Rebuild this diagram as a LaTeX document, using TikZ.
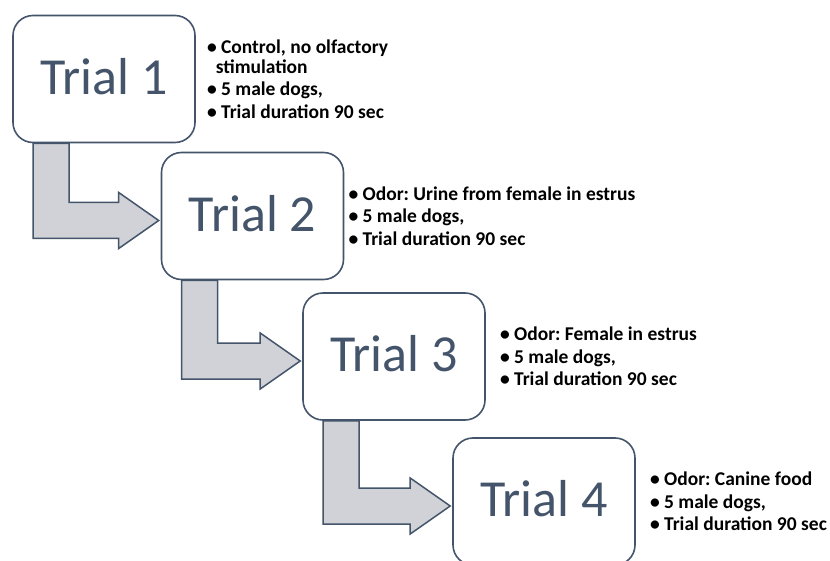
\documentclass[tikz,border=0pt]{standalone}
\usepackage{fontspec}
\setmainfont{Carlito}
\usepackage{tikz}
\usetikzlibrary {positioning}
\usetikzlibrary {calc}
\frenchspacing

\definecolor{slate}{RGB}{68,84,106}
\definecolor{arrowgray}{RGB}{208,210,215}

\tikzset{
  trialbox/.style={rectangle, rounded corners=20pt, draw=slate, line width=1.6pt,
    fill=white, text=slate, minimum width=182pt, minimum height=127pt,
    font=\fontsize{52}{60}\selectfont, text depth=0pt},
  notes/.style={align=left, inner sep=0pt, text=black,
    font=\bfseries\fontsize{19.5}{19.5}\selectfont},
  blockarrow/.style={draw=slate, line width=1.5pt, fill=arrowgray, line join=miter}
}

\begin{document}
\begin{tikzpicture}[x=1pt, y=-1pt]
\useasboundingbox (0,0) rectangle (830,561);

%trials
\node [trialbox] (t1) at (104,79) {\raisebox{6pt}{Trial 1}};
\node [trialbox] (t2) at (252.5,216) {\raisebox{6pt}{Trial 2}};
\node [trialbox] (t3) at (394,356.5) {\raisebox{6pt}{Trial 3}};
\node [trialbox] (t4) at (544,501.5) {\raisebox{6pt}{Trial 4}};

%notes
\node [notes, right=11pt of t1] (n1) {\textbullet\ Control, no olfactory\\
  \hspace*{0.45em}stimulation\\[3pt]
  \textbullet\ 5 male dogs,\\[3pt]
  \textbullet\ Trial duration 90 sec};
\node [notes, right=4pt of t2] (n2) {\textbullet\ Odor: Urine from female in estrus\\[3pt]
  \textbullet\ 5 male dogs,\\[3pt]
  \textbullet\ Trial duration 90 sec};
\node [notes, right=14pt of t3] (n3) {\textbullet\ Odor: Female in estrus\\[3pt]
  \textbullet\ 5 male dogs,\\[3pt]
  \textbullet\ Trial duration 90 sec};
\node [notes, right=14pt of t4] (n4) {\textbullet\ Odor: Canine food\\[3pt]
  \textbullet\ 5 male dogs,\\[3pt]
  \textbullet\ Trial duration 90 sec};

%arrows
\foreach \a/\b in {t1/t2, t2/t3, t3/t4}
  \draw [blockarrow] ($(\a.south west)+(21,0)$) -- ($(\a.south west)+(57,0)$)
    |- ($(\b.west)+(-42,-13.5)$) -- ($(\b.west)+(-42,-23.5)$)
    -- ($(\b.west)+(-2,4.5)$) -- ($(\b.west)+(-42,32.5)$)
    -- ($(\b.west)+(-42,22.5)$) -| ($(\a.south west)+(21,0)$) -- cycle;

\end{tikzpicture}
\end{document}
